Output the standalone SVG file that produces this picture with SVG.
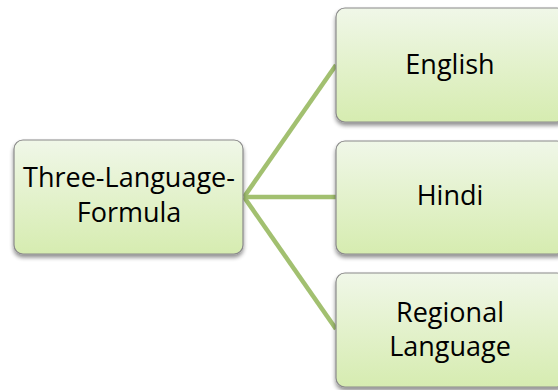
<svg xmlns="http://www.w3.org/2000/svg" width="558" height="390" viewBox="0 0 558 390">
<defs>
<linearGradient id="g" x1="0" y1="0" x2="0" y2="1">
<stop offset="0" stop-color="#f0f7e8"/>
<stop offset="1" stop-color="#d6ecb0"/>
</linearGradient>
<filter id="sh" x="-10%" y="-10%" width="120%" height="130%">
<feGaussianBlur in="SourceAlpha" stdDeviation="2"/>
<feOffset dx="0" dy="3" result="b"/>
<feComponentTransfer><feFuncA type="linear" slope="0.45"/></feComponentTransfer>
<feMerge><feMergeNode/><feMergeNode in="SourceGraphic"/></feMerge>
</filter>
</defs>
<style>
.box{fill:url(#g);stroke:#8a8a8a;stroke-width:1.2;filter:url(#sh)}
.t{font-family:"Open Sans","Noto Sans",sans-serif;font-size:27px;fill:#000;text-anchor:middle}
.c{stroke:#a2c070;stroke-width:4.5;fill:none;stroke-linecap:butt}
</style>
<rect width="558" height="390" fill="#ffffff"/>
<g id="connectors">
<line class="c" x1="244" y1="197" x2="336" y2="65"/>
<line class="c" x1="244" y1="197" x2="336" y2="197"/>
<line class="c" x1="244" y1="197" x2="336" y2="329"/>
</g>
<g id="root">
<rect class="box" x="14" y="140" width="229" height="114" rx="9"/>
<text class="t" x="129" y="187">Three-Language-</text>
<text class="t" x="129" y="222">Formula</text>
</g>
<g id="english">
<rect class="box" x="336" y="8" width="230" height="114" rx="9"/>
<text class="t" x="450" y="74">English</text>
</g>
<g id="hindi">
<rect class="box" x="336" y="141" width="230" height="113" rx="9"/>
<text class="t" x="450" y="205">Hindi</text>
</g>
<g id="regional">
<rect class="box" x="336" y="273" width="230" height="114" rx="9"/>
<text class="t" x="450" y="322">Regional</text>
<text class="t" x="450" y="356">Language</text>
</g>
</svg>
